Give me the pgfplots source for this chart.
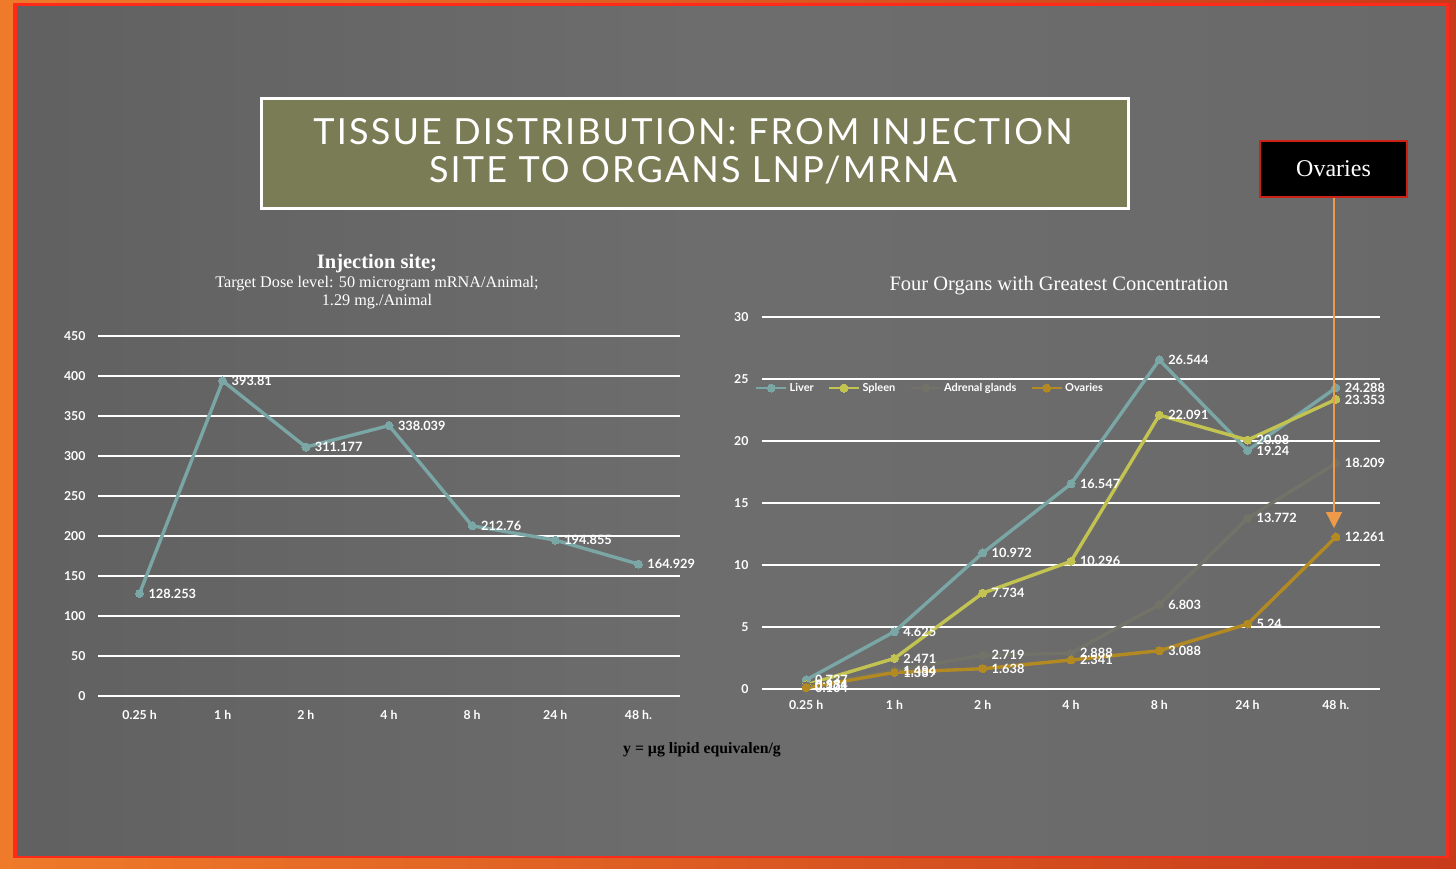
\documentclass[border=0pt]{standalone}
\usepackage{fontspec}
\setmainfont{Liberation Serif}
\newfontfamily\gill{Lato}
\newfontfamily\gilltitle[LetterSpace=6]{Lato}
\usepackage{pgfplots}
\pgfplotsset{compat=1.18}
\usetikzlibrary{arrows.meta}
\definecolor{liver}{HTML}{7AA7A6}
\definecolor{spleen}{HTML}{C3C352}
\definecolor{adrenal}{HTML}{727269}
\definecolor{ovaries}{HTML}{B38A22}
\definecolor{bgray}{HTML}{696969}
\definecolor{olivebox}{HTML}{7A7C55}
\definecolor{frameor}{HTML}{EE7A2A}
\definecolor{framered}{HTML}{C83A1A}
\definecolor{redline}{HTML}{FF2A1A}
\definecolor{arrowor}{HTML}{EE9A48}
\pgfplotsset{
  chartbase/.style={
    scale only axis, clip=false,
    xmin=-0.5, xmax=6.5,
    xtick={0,...,6},
    xticklabels={0.25 h,1 h,2 h,4 h,8 h,24 h,48 h.},
    axis line style={draw=none},
    major tick length=0pt,
    ymajorgrids,
    grid style={white, line width=1.8pt},
    tick label style={font=\gill\bfseries\fontsize{12.3}{14}\selectfont, text=white},
    /pgf/number format/assume math mode=true,
    nodes near coords,
    point meta=explicit symbolic,
    every node near coord/.append style={anchor=west, font=\gill\bfseries\fontsize{12.8}{14}\selectfont, text=white, inner sep=1pt, xshift=8pt},
  },
  ser/.style={color=#1, line width=3.4pt, mark=*, mark size=4pt, mark options={fill=#1, draw=#1, line width=0pt}},
}
\begin{document}
\begin{tikzpicture}[x=1pt,y=1pt]
\useasboundingbox (0,0) rectangle (1456,-868);
\shade[left color=frameor, right color=framered] (0,0) rectangle (1456,-868);
\fill[redline] (13,-3) rectangle (1449,-858);
\shade[left color=bgray!92!black, right color=bgray, middle color=bgray!97!white] (17,-6) rectangle (1446,-855);
% title box
\draw[white, line width=3pt, fill=olivebox] (261,-98) rectangle (1128,-208);
\node[text=white, font=\gilltitle\fontsize{36}{40}\selectfont] at (693,-132) {TISSUE DISTRIBUTION: FROM INJECTION};
\node[text=white, font=\gilltitle\fontsize{36}{40}\selectfont] at (693,-170) {SITE TO ORGANS LNP/MRNA};
% left titles
\node[text=white, font=\bfseries\fontsize{20.5}{22}\selectfont] at (377,-264) {Injection site;};
\node[text=white, font=\fontsize{16.2}{18}\selectfont] at (377,-284) {Target Dose level: 50 microgram mRNA/Animal;};
\node[text=white, font=\fontsize{16.2}{18}\selectfont] at (377,-302) {1.29 mg./Animal};
% right title
\node[text=white, font=\fontsize{20.5}{22}\selectfont] at (1059,-286) {Four Organs with Greatest Concentration};
% bottom label
\node[text=black, font=\bfseries\fontsize{15.8}{18}\selectfont] at (702,-750) {y = µg lipid equivalen/g};

\begin{axis}[chartbase, at={(98pt,-696pt)}, anchor=south west,
  width=582pt, height=360pt,
  ymin=0, ymax=450, ytick={0,50,...,450},
  yticklabel style={xshift=-9pt},
  xticklabel style={yshift=-11pt},
]
\addplot[ser=liver] coordinates {
 (0,128.253) [128.253]
 (1,393.81) [393.81]
 (2,311.177) [311.177]
 (3,338.039) [338.039]
 (4,212.76) [212.76]
 (5,194.855) [194.855]
 (6,164.929) [164.929]
};
\end{axis}

\begin{axis}[chartbase, at={(762pt,-689pt)}, anchor=south west,
  width=618pt, height=372pt,
  ymin=0, ymax=30, ytick={0,5,...,30},
  yticklabel style={xshift=-10pt},
  xticklabel style={yshift=-8pt},
  legend style={at={(-0.012,0.809)}, anchor=west, draw=none, fill=none,
    inner sep=0pt, text=white, font=\gill\bfseries\fontsize{11}{13}\selectfont,
    legend columns=4,
    /tikz/every even column/.append style={column sep=12pt}},
  legend image code/.code={\draw[#1, mark repeat=2, mark phase=2, line width=2.8pt] plot coordinates {(0pt,0pt) (15pt,0pt) (30pt,0pt)};},
]
\addplot[ser=liver] coordinates {
 (0,0.737) [0.737]
 (1,4.625) [4.625]
 (2,10.972) [10.972]
 (3,16.547) [16.547]
 (4,26.544) [26.544]
 (5,19.24) [19.24]
 (6,24.288) [24.288]
};
\addlegendentry{Liver}
\addplot[ser=spleen] coordinates {
 (0,0.334) [0.334]
 (1,2.471) [2.471]
 (2,7.734) [7.734]
 (3,10.296) [10.296]
 (4,22.091) [22.091]
 (5,20.08) [20.08]
 (6,23.353) [23.353]
};
\addlegendentry{Spleen}
\addplot[ser=adrenal] coordinates {
 (0,0.271) [0.271]
 (1,1.484) [1.484]
 (2,2.719) [2.719]
 (3,2.888) [2.888]
 (4,6.803) [6.803]
 (5,13.772) [13.772]
 (6,18.209) [18.209]
};
\addlegendentry{Adrenal glands}
\addplot[ser=ovaries] coordinates {
 (0,0.104) [0.104]
 (1,1.339) [1.339]
 (2,1.638) [1.638]
 (3,2.341) [2.341]
 (4,3.088) [3.088]
 (5,5.24) [5.24]
 (6,12.261) [12.261]
};
\addlegendentry{Ovaries}
\end{axis}

% Ovaries callout
\draw[arrowor, line width=1.5pt, -{Triangle[width=16pt,length=16pt]}] (1334,-198) -- (1334,-528);
\node[fill=black, draw=redline!80!black, line width=2pt, minimum width=147pt, minimum height=56pt, inner sep=0pt,
  text=white, font=\fontsize{24}{28}\selectfont] at (1333.5,-168.5) {Ovaries};
\end{tikzpicture}
\end{document}
